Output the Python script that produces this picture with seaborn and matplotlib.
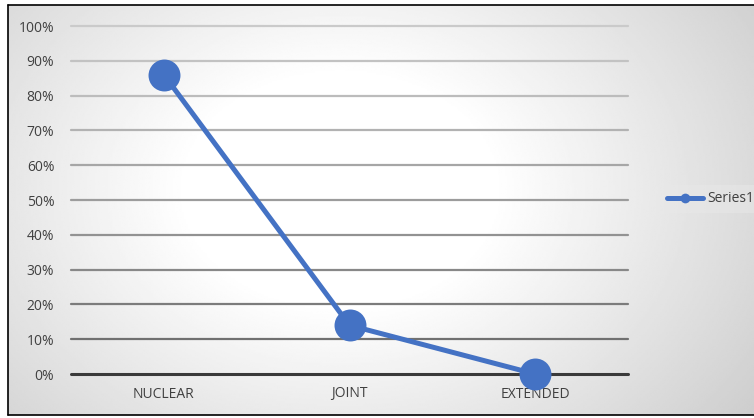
import numpy as np
import pandas as pd
import matplotlib
matplotlib.use("Agg")
import matplotlib.pyplot as plt
from matplotlib.ticker import PercentFormatter
import seaborn as sns

categories = ["NUCLEAR", "JOINT", "EXTENDED"]
values = [0.86, 0.14, 0.00]
series_name = "Series1"
y_ticks = [0.0, 0.1, 0.2, 0.3, 0.4, 0.5, 0.6, 0.7, 0.8, 0.9, 1.0]

df = pd.DataFrame({"category": categories, "value": values, "series": series_name})

sns.set_theme(style="white")
plt.rcParams["font.family"] = ["Open Sans", "DejaVu Sans"]

W, H = 754, 418
fig = plt.figure(figsize=(W / 100, H / 100), dpi=100)
fig.patch.set_facecolor("white")

# Radial grey-to-white backdrop inside the chart frame
bg = fig.add_axes([0, 0, 1, 1], zorder=-2)
bg.set_xlim(0, W)
bg.set_ylim(H, 0)
bg.axis("off")
x0, y0, x1, y1 = 8, 5, W, 415
xx, yy = np.meshgrid(np.linspace(x0, x1, 400), np.linspace(y0, y1, 250))
cx, cy = 340, 190
r = np.sqrt(((xx - cx) / 440) ** 2 + ((yy - cy) / 330) ** 2)
t = np.clip((r - 0.35) / 0.75, 0, 1.3)
shade = 1.0 - 0.18 * t
shade = np.clip(shade, 0.78, 1.0)
bg.imshow(shade, cmap="gray", vmin=0, vmax=1, extent=[x0, x1, y1, y0],
          aspect="auto", interpolation="bilinear")
bg.plot([x0, x0], [y0, y1], color="black", lw=1.2)
bg.plot([x0, x1], [y0, y0], color="black", lw=1.2)
bg.plot([x0, x1], [y1, y1], color="black", lw=1.2)

ax = fig.add_axes([71 / W, 1 - 374 / H, (628 - 71) / W, (374 - 26) / H])
ax.patch.set_alpha(0)

sns.lineplot(data=df, x="category", y="value", hue="series", palette=["#4472C4"],
             marker="o", markersize=23, linewidth=3.6, markeredgewidth=0,
             sort=False, ax=ax, legend=False, zorder=5, clip_on=False)

ax.set_xlim(-0.5, 2.5)
ax.set_ylim(0, 1.0)
ax.set_yticks(y_ticks)
ax.yaxis.set_major_formatter(PercentFormatter(1.0, decimals=0))
ax.set_xlabel("")
ax.set_ylabel("")
for s in ax.spines.values():
    s.set_visible(False)
ax.tick_params(axis="both", length=0, labelsize=10, labelcolor="#404040")
ax.tick_params(axis="y", pad=12)
ax.tick_params(axis="x", pad=9)

# Horizontal gridlines, darkening toward the baseline
greys = ["#3a3a3a", "#707070", "#7c7c7c", "#888888", "#929292", "#9c9c9c",
         "#a6a6a6", "#b2b2b2", "#bcbcbc", "#c2c2c2", "#cacaca"]
for yv, c in zip(y_ticks, greys):
    ax.axhline(yv, color=c, lw=2.2 if yv == 0 else 1.6, zorder=1, clip_on=False)

handle = plt.Line2D([], [], color="#4472C4", lw=3.6, marker="o", markersize=7,
                    markeredgewidth=0)
leg = fig.legend([handle], [series_name], loc="center left",
                 bbox_to_anchor=(660 / W, 1 - 199 / H), frameon=True,
                 fontsize=10, handlelength=2.6, handletextpad=0.3,
                 borderpad=0.5, borderaxespad=0)
leg.get_frame().set_facecolor("#e8e8e8")
leg.get_frame().set_edgecolor("none")
leg.get_frame().set_alpha(0.5)
for t in leg.get_texts():
    t.set_color("#404040")

fig.savefig("out.png", dpi=100)
